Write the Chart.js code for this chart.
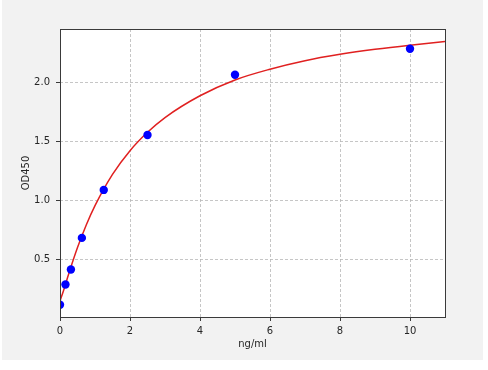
<!DOCTYPE html>
<html lang="en">
<head>
<meta charset="UTF-8">
<title>Standard Curve</title>
<script src="https://cdn.jsdelivr.net/npm/chart.js"></script>
<style>
    body {
        margin: 0;
        background: #ffffff;
    }
    .chart-container {
        position: absolute;
        left: 2px;
        top: 0;
        width: 481px;
        height: 360px;
        background: #f2f2f2;
    }
</style>
</head>
<body>
<div class="chart-container">
    <canvas id="myChart" width="481" height="360"></canvas>
</div>
<script>
// standard points
const concentrations = [0, 0.156, 0.312, 0.625, 1.25, 2.5, 5, 10];
const odValues = [0.113, 0.285, 0.412, 0.680, 1.087, 1.553, 2.064, 2.285];

// fitted curve
const curveX = [0, 0.1, 0.25, 0.5, 0.75, 1, 1.5, 2, 2.5, 3, 4, 5, 6, 7, 8, 9, 10, 11];
const curveY = [0.145, 0.232, 0.376, 0.598, 0.790, 0.954, 1.219, 1.42, 1.576, 1.701, 1.886, 2.02, 2.111, 2.183, 2.237, 2.28, 2.315, 2.345];

const xTicks = [0, 2, 4, 6, 8, 10];
const yTicks = [0.5, 1.0, 1.5, 2.0];

const tickFont = { family: 'DejaVu Sans', size: 10 };
const textColor = '#262626';

const frame = {
    id: 'frame',
    beforeDraw(chart) {
        const { ctx, chartArea: a } = chart;
        ctx.save();
        ctx.fillStyle = '#ffffff';
        ctx.fillRect(a.left, a.top, a.right - a.left, a.bottom - a.top);
        ctx.restore();
    },
    afterDatasetsDraw(chart) {
        const { ctx, chartArea: a } = chart;
        ctx.save();
        ctx.strokeStyle = '#3a3a3a';
        ctx.lineWidth = 1;
        ctx.strokeRect(Math.round(a.left) + 0.5, Math.round(a.top) + 0.5,
            Math.round(a.right - a.left), Math.round(a.bottom - a.top));
        ctx.restore();
    }
};

const ctx = document.getElementById('myChart').getContext('2d');
new Chart(ctx, {
    type: 'scatter',
    data: {
        datasets: [{
            label: 'Standards',
            data: concentrations.map((x, i) => ({ x: x, y: odValues[i] })),
            backgroundColor: '#0000ff',
            borderColor: '#0000ff',
            pointRadius: 4.2,
            pointBorderWidth: 0,
            pointHoverRadius: 4.2,
            clip: 0
        }, {
            label: 'Fit',
            type: 'line',
            data: curveX.map((x, i) => ({ x: x, y: curveY[i] })),
            borderColor: '#e02020',
            borderWidth: 1.5,
            pointRadius: 0,
            fill: false,
            cubicInterpolationMode: 'monotone',
            clip: 0
        }]
    },
    options: {
        responsive: false,
        animation: false,
        layout: {
            padding: { top: 29, right: 38, left: 0, bottom: 0 }
        },
        plugins: {
            legend: { display: false },
            tooltip: { enabled: false }
        },
        scales: {
            x: {
                type: 'linear',
                min: 0,
                max: 11,
                afterBuildTicks: s => { s.ticks = xTicks.map(v => ({ value: v })); },
                afterFit: s => { s.height = 43; },
                grid: {
                    color: '#b8b8b8',
                    lineWidth: 0.8,
                    tickColor: '#3a3a3a',
                    tickLength: 4,
                    tickWidth: 1
                },
                border: { display: false, dash: [3, 2] },
                ticks: {
                    font: tickFont,
                    color: textColor,
                    padding: 4,
                    maxRotation: 0,
                    callback: v => String(v)
                },
                title: {
                    display: true,
                    text: 'ng/ml',
                    font: tickFont,
                    color: textColor,
                    padding: { top: 0, bottom: 10 }
                }
            },
            y: {
                type: 'linear',
                min: 0.009,
                max: 2.452,
                afterBuildTicks: s => { s.ticks = yTicks.map(v => ({ value: v })); },
                afterFit: s => { s.width = 58; },
                grid: {
                    color: '#b8b8b8',
                    lineWidth: 0.8,
                    tickColor: '#3a3a3a',
                    tickLength: 4,
                    tickWidth: 1
                },
                border: { display: false, dash: [3, 2] },
                ticks: {
                    font: tickFont,
                    color: textColor,
                    padding: 6,
                    callback: v => Number(v).toFixed(1)
                },
                title: {
                    display: true,
                    text: 'OD450',
                    font: tickFont,
                    color: textColor,
                    padding: { top: 18, bottom: 18 }
                }
            }
        }
    },
    plugins: [frame]
});
</script>
</body>
</html>
